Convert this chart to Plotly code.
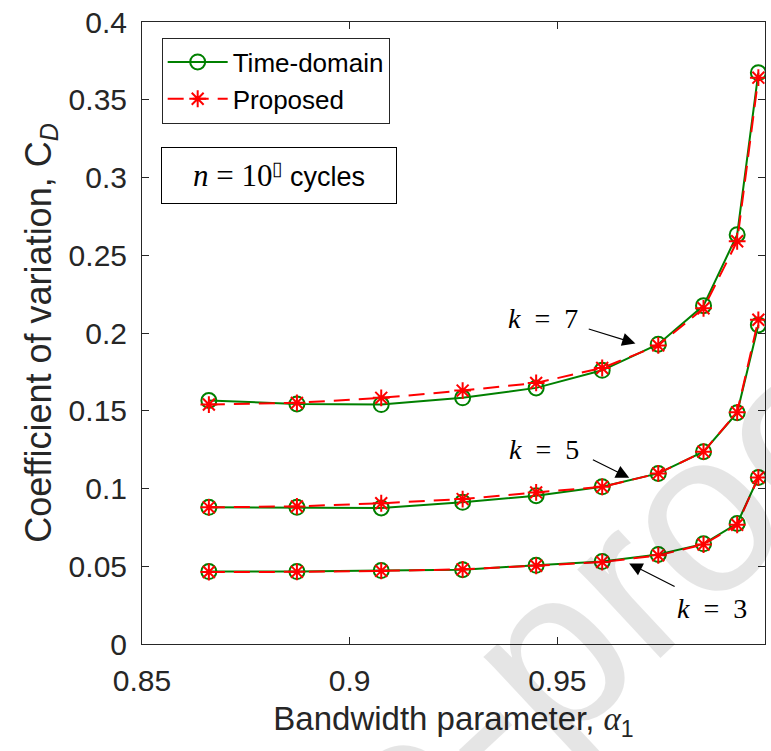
import plotly.graph_objects as go

# Bandwidth parameter values
alpha1 = [0.8661, 0.8873, 0.9076, 0.9272, 0.9449, 0.9608, 0.9743, 0.9852, 0.9933, 0.9984]

# Coefficient of variation, time-domain results
td_k7 = [0.1566, 0.1544, 0.1540, 0.1583, 0.1647, 0.1760, 0.1928, 0.2176, 0.2632, 0.3674]
td_k5 = [0.0879, 0.0879, 0.0875, 0.0911, 0.0954, 0.1011, 0.1097, 0.1237, 0.1487, 0.2052]
td_k3 = [0.0466, 0.0466, 0.0472, 0.0478, 0.0506, 0.0530, 0.0576, 0.0644, 0.0775, 0.1071]

# Coefficient of variation, proposed method
pr_k7 = [0.1540, 0.1551, 0.1583, 0.1630, 0.1679, 0.1775, 0.1920, 0.2159, 0.2590, 0.3642]
pr_k5 = [0.0879, 0.0885, 0.0905, 0.0932, 0.0975, 0.1011, 0.1097, 0.1237, 0.1490, 0.2085]
pr_k3 = [0.0463, 0.0464, 0.0470, 0.0480, 0.0503, 0.0527, 0.0570, 0.0640, 0.0767, 0.1071]

x_ticks = [0.85, 0.9, 0.95, 1.0]
x_ticklabels = ["0.85", "0.9", "0.95", "1"]
y_ticks = [0, 0.05, 0.1, 0.15, 0.2, 0.25, 0.3, 0.35, 0.4]
y_ticklabels = ["0", "0.05", "0.1", "0.15", "0.2", "0.25", "0.3", "0.35", "0.4"]

GREEN = "#008000"
RED = "#ff0000"
INK = "#262626"
SANS = "Liberation Sans, Arial, sans-serif"
SERIF = "Liberation Serif, Times New Roman, serif"

fig = go.Figure()

td_style = dict(mode="lines+markers",
                line=dict(color=GREEN, width=2),
                marker=dict(symbol="circle-open", size=15, color=GREEN,
                            line=dict(color=GREEN, width=2)))
pr_style = dict(mode="lines+markers",
                line=dict(color=RED, width=2, dash="16px,9px"),
                marker=dict(symbol="asterisk-open", size=14, color=RED,
                            line=dict(color=RED, width=2)))

for i, ys in enumerate([td_k7, td_k5, td_k3]):
    fig.add_trace(go.Scatter(x=alpha1, y=ys, name="Time-domain",
                             showlegend=(i == 0), legendrank=1, **td_style))
for i, ys in enumerate([pr_k7, pr_k5, pr_k3]):
    fig.add_trace(go.Scatter(x=alpha1, y=ys, name="Proposed",
                             showlegend=(i == 0), legendrank=2, **pr_style))

# Curve labels with arrows: (label x, label y, arrow tail x, tail y, head x, head y, text)
curve_labels = [
    (0.9466, 0.2093, 0.9572, 0.2029, 0.9688, 0.1933, "7"),
    (0.9469, 0.1254, 0.9582, 0.1190, 0.9673, 0.1069, "5"),
    (0.9873, 0.0230, 0.9786, 0.0365, 0.9673, 0.0518, "3"),
]
annotations = []
for lx, ly, tx, ty, hx, hy, kval in curve_labels:
    annotations.append(dict(
        x=lx, y=ly, xref="x", yref="y", showarrow=False,
        text=f"<i>k</i>\u2002=\u2002{kval}",
        font=dict(family=SERIF, size=28, color="black")))
    annotations.append(dict(
        x=hx, y=hy, ax=tx, ay=ty, xref="x", yref="y", axref="x", ayref="y",
        text="", showarrow=True, arrowhead=2, arrowsize=2.2, arrowwidth=1.2,
        arrowcolor="black", standoff=0, startstandoff=0))

# Cycle-count note
annotations.append(dict(
    x=0.030, y=0.7984, xref="paper", yref="paper", xanchor="left", yanchor="top",
    showarrow=False, width=234, height=55, borderpad=0,
    bordercolor="black", borderwidth=1, bgcolor="white", align="center",
    text=(f"<span style='font-family:{SERIF};font-size:31px'><i>n</i> = 10</span>"
          "<sup>\u25af</sup> cycles"),
    font=dict(family=SANS, size=27, color="black")))

# Journal watermark
annotations.append(dict(
    x=0.150, y=-0.485, xref="paper", yref="paper", xanchor="center", yanchor="middle",
    showarrow=False, text="Journal Pre-proof", textangle=-43,
    font=dict(family=SANS, size=230, color="rgba(0,0,0,0.1)")))

fig.update_layout(
    width=771, height=751,
    margin=dict(l=142, r=5, t=19, b=107),
    paper_bgcolor="white", plot_bgcolor="white",
    font=dict(family=SANS, size=30, color=INK),
    showlegend=True,
    legend=dict(x=0.0316, y=0.975, xanchor="left", yanchor="top",
                bgcolor="white", bordercolor=INK, borderwidth=1,
                font=dict(family=SANS, size=26, color="black"),
                itemwidth=60, tracegroupgap=0),
    annotations=annotations,
)

fig.update_xaxes(
    range=[0.85, 1.0], tickvals=x_ticks, ticktext=x_ticklabels,
    ticks="inside", ticklen=7, tickcolor=INK, tickwidth=1,
    showline=True, linecolor=INK, linewidth=1, mirror="ticks",
    showgrid=False, zeroline=False, ticklabelstandoff=10,
    title=dict(text=("Bandwidth parameter, "
                     f"<span style='font-family:{SERIF}'><i>\u03b1</i></span><sub>1</sub>"),
               font=dict(family=SANS, size=33, color=INK), standoff=10),
    tickfont=dict(family=SANS, size=30, color=INK),
)
fig.update_yaxes(
    range=[0, 0.4], tickvals=y_ticks, ticktext=y_ticklabels,
    ticks="inside", ticklen=7, tickcolor=INK, tickwidth=1,
    showline=True, linecolor=INK, linewidth=1, mirror="ticks",
    showgrid=False, zeroline=False, ticklabelstandoff=8,
    title=dict(text="Coefficient of variation, C<sub><i>D</i></sub>",
               font=dict(family=SANS, size=36, color=INK), standoff=6),
    tickfont=dict(family=SANS, size=30, color=INK),
)

fig.write_html("out.html")
